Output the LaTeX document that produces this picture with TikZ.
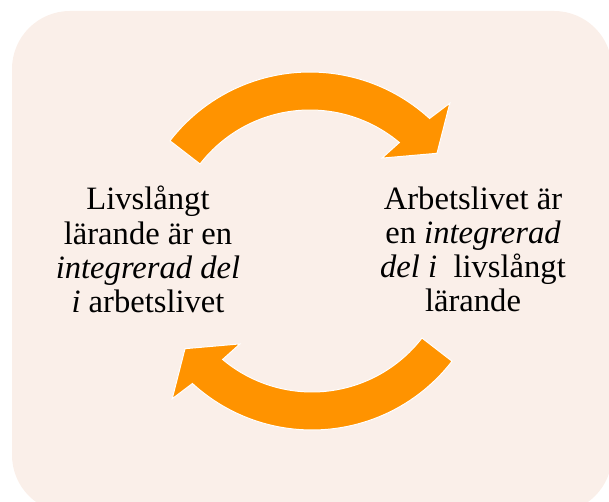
\documentclass[tikz,border=0pt]{standalone}
\usepackage{fontspec, tkz-euclide}
\setmainfont{Liberation Serif}
\tikzset{>=stealth}
\definecolor{boxpink}{RGB}{250,239,233}
\definecolor{arroworange}{RGB}{255,147,0}
\tikzset{bend arrow/.style = {fill = arroworange, draw = white, line width = 0.5pt},
    cycle text/.style = {align = center, inner sep = 0pt, font = \fontsize{16.3}{17.1}\selectfont}}

\begin{document}
\begin{tikzpicture}[x = 0.5pt, y = 0.5pt]
    \useasboundingbox (0,0) rectangle (609,502);
    \tkzDefPoints{148/252.5/L, 473/252.5/R, 310/253/O, 312/249/P}
    \fill[boxpink, rounded corners = 29pt] (12,-11) rectangle (612,491);
   %\tkzLabelPoints(L,R,O,P)
    \begin{scope}[shift = {(O)}]
        \filldraw[bend arrow] (142.3:177) arc[start angle = 142.3, end angle = 47.5, radius = 177]
            -- (46.2:202) -- (37:159) -- (51.6:116) -- (50:139)
            arc[start angle = 50, end angle = 142.3, radius = 139] -- cycle;
    \end{scope}
    \begin{scope}[shift = {(P)}, rotate = 180]
        \filldraw[bend arrow] (142.3:177) arc[start angle = 142.3, end angle = 47.5, radius = 177]
            -- (46.2:202) -- (37:159) -- (51.6:116) -- (50:139)
            arc[start angle = 50, end angle = 142.3, radius = 139] -- cycle;
    \end{scope}
    \node (lifelong) at (L) [cycle text] {Livslångt\\lärande är en\\\textit{integrerad del}\\\textit{i} arbetslivet};
    \node (worklife) at (R) [cycle text] {Arbetslivet är\\en \textit{integrerad}\\\textit{del i} \ livslångt\\lärande};
\end{tikzpicture}
\end{document}
